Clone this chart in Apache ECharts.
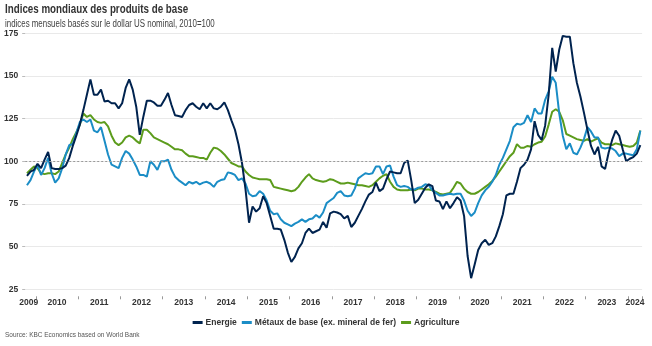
<!DOCTYPE html>
<html>
<head>
<meta charset="utf-8">
<script src="https://cdn.jsdelivr.net/npm/echarts@6/dist/echarts.min.js"></script>
<style>
  html, body { margin: 0; padding: 0; background: #ffffff; }
  #chart { width: 652px; height: 346px; }
</style>
</head>
<body>
<div id="chart"></div>
<script>
// Monthly world commodity indices (2010 = 100), Oct 2009 – Apr 2024
const startYear = 2009;
const startMonth = 10;

const yearLabels = ['2009', '2010', '2011', '2012', '2013', '2014', '2015', '2016',
                    '2017', '2018', '2019', '2020', '2021', '2022', '2023', '2024'];

const energie = [
  91.5, 94, 95,                                                          // 2009 Q4
  98.5, 96, 101, 105.5, 96, 95.5, 95.5, 96, 97.5, 102, 109, 115,          // 2010
  121.5, 130, 139, 148, 139, 139, 142, 135, 135.5, 134, 134, 131,         // 2011
  134, 143, 148, 142, 132, 115.5, 126, 135.5, 135.5, 134.5, 132.5, 132.5, // 2012
  136, 140, 133, 127, 126.5, 126, 130, 133, 134, 132, 130.5, 134,         // 2013
  131, 134, 131, 130.5, 132, 134.5, 130, 124, 118.5, 110, 99, 83.5,       // 2014
  64, 73.5, 70.5, 72.5, 79.5, 75.5, 68, 60.5, 60.5, 60, 54, 46.5,         // 2015
  41, 44, 49, 52, 58, 60.5, 58, 59, 60, 64.5, 61, 69.5,                   // 2016
  70.5, 70, 69, 66.5, 68, 61.5, 64, 68, 72, 76.5, 80.5, 82,               // 2017
  87.5, 82.5, 84, 89.5, 94, 93.5, 93, 93, 99, 100.5, 89, 75.5,            // 2018
  77.5, 81, 84.5, 86.5, 85.5, 77, 76.5, 72, 76.5, 72.5, 75.5, 79,         // 2019
  77, 68, 44.5, 31.5, 39.5, 48, 52, 54, 51, 52, 56, 62,                   // 2020
  69, 80, 81, 81, 88, 96, 98, 101, 107, 123.5, 115.5, 112.5,              // 2021
  121, 139, 166.5, 152.5, 165.5, 173.5, 173, 173, 157.5, 146, 138, 128.5, // 2022
  118.5, 109, 104, 108.5, 97, 95.5, 105, 112.5, 118, 115, 107, 100,       // 2023
  101.5, 102.5, 104.5, 109.5                                              // 2024
];

const metaux = [
  86, 89, 94,
  98, 92, 96, 102, 93, 87.5, 90, 96, 104, 109.5, 110, 116.5,
  123, 124.5, 123, 124.5, 118, 117, 120, 112, 104, 98, 97, 96,
  102, 106, 104.5, 101, 97, 92, 92, 91, 100, 98, 95, 100,
  100, 101, 95, 91, 89, 87.5, 86, 88, 87, 88, 86.5, 87.5,
  88, 87, 85, 88, 89, 89.5, 93.5, 93, 92, 89, 90, 87,
  81, 79.5, 80, 82.5, 81, 77, 71, 69, 69.5, 66, 64, 63,
  62, 63.5, 64.5, 66, 64.5, 66, 66.5, 68.5, 67, 70, 75.5, 77,
  78.5, 81.5, 82.5, 80, 79.5, 80, 84, 90, 91.5, 93, 92.5, 93,
  97, 97, 92.5, 97, 97.5, 91, 86, 85, 85.5, 85, 83.5, 83.5,
  84.5, 85, 86.5, 86, 83, 81.5, 80, 80, 80.5, 81, 80.5, 81,
  81, 77, 71, 68, 70, 75.5, 80, 83, 85, 88, 92, 98,
  102, 107, 112, 120, 122, 121.5, 122.5, 127, 123, 131, 128, 128,
  136, 141, 149.5, 146, 128, 115, 107, 110.5, 105, 104, 108, 113,
  120, 117.5, 114, 114, 108, 107.5, 108, 107.5, 106, 103, 104.5, 104.5,
  104, 103.5, 107, 118
];

const agriculture = [
  93, 95, 97,
  96, 93, 92.5, 93, 93, 92.5, 94, 99, 104, 108, 113, 117,
  121.5, 128, 126, 127, 124.5, 123, 122.5, 123, 120.5, 115, 111, 109.5,
  111, 114, 115, 114, 112, 110.5, 118.5, 118.5, 116.5, 114, 113, 112,
  111, 110, 108.5, 107, 107, 106.5, 104.5, 103, 103, 102.5, 102, 102,
  101, 105, 108, 107.5, 106, 104, 101.5, 99, 98, 97, 97, 94,
  92, 90.5, 90, 89.5, 89.5, 89.5, 89, 85, 84.5, 84, 83.5, 83,
  82.5, 83, 85, 88, 90.5, 92.5, 90, 89, 88.5, 88, 88.5, 89.5,
  89, 88, 87, 87, 87.5, 87, 86.5, 86, 86, 85.5, 85, 86,
  88, 90, 91.5, 92.5, 88, 85, 83.5, 83, 83, 83, 83.5, 83,
  84, 84, 83.5, 83.5, 83, 82, 81, 80.5, 81, 81.5, 84.5, 88,
  87, 84, 82, 81, 81, 82, 83.5, 85, 86.5, 88.5, 91, 94,
  97, 100, 103, 105, 110, 108, 108, 109, 108.5, 110, 111, 111.5,
  114.5, 121.5, 129, 130.5, 129, 124, 116, 115, 114, 113, 112.5, 112,
  113, 111.5, 112.5, 113.5, 111, 110, 110, 109.5, 110.5, 110, 109.5, 109,
  108.5, 109, 111, 118
];

// Month categories "YYYY-MM"
const months = [];
for (let k = 0; k < energie.length; k++) {
  const t = (startMonth - 1) + k;
  const y = startYear + Math.floor(t / 12);
  const m = (t % 12) + 1;
  months.push(y + '-' + (m < 10 ? '0' + m : m));
}

// Year label sits mid-year (between June and July); partial years centred on their span
const labelAt = {};
labelAt[0] = yearLabels[0];
for (let y = 2010; y <= 2023; y++) {
  labelAt[months.indexOf(y + '-06')] = String(y);
}
labelAt[months.indexOf('2024-02')] = yearLabels[yearLabels.length - 1];

const FONT = "'Liberation Sans', Arial, sans-serif";
const C_ENERGIE = '#00234f';
const C_METAUX = '#1b8dc6';
const C_AGRI = '#5c9c1c';

const chart = echarts.init(document.getElementById('chart'), null, { renderer: 'canvas' });

chart.setOption({
  animation: false,
  backgroundColor: '#ffffff',
  textStyle: { fontFamily: FONT },
  graphic: [
    {
      type: 'text', x: 5, y: 4, scaleX: 0.815,
      style: { text: 'Indices mondiaux des produits de base', font: "bold 12px " + FONT, fill: '#333333' }
    },
    {
      type: 'text', x: 5, y: 19, scaleX: 0.79,
      style: { text: 'indices mensuels basés sur le dollar US nominal, 2010=100', font: "10px " + FONT, fill: '#404040' }
    },
    {
      type: 'text', x: 5, y: 331, scaleX: 0.81,
      style: { text: 'Source: KBC Economics based on World Bank', font: "8px " + FONT, fill: '#555555' }
    }
  ],
  legend: {
    top: 313,
    left: 'center',
    itemWidth: 10,
    itemHeight: 3,
    itemGap: 5,
    icon: 'rect',
    data: ['Energie', 'Métaux de base (ex. mineral de fer)', 'Agriculture'],
    textStyle: { fontFamily: FONT, fontSize: 8.5, fontWeight: 'bold', color: '#333333', padding: [0, 0, 0, -2] }
  },
  grid: { left: 25.2, right: 9.9, top: 33.3, bottom: 56.7 },
  xAxis: {
    type: 'category',
    data: months,
    boundaryGap: true,
    offset: 7,
    axisLine: { show: false },
    axisTick: {
      show: true,
      length: 3,
      interval: function (index) { return index >= 3 && (index - 3) % 12 === 0; },
      lineStyle: { color: '#999999', width: 1 }
    },
    axisLabel: {
      margin: 2,
      interval: function (index) { return labelAt[index] !== undefined; },
      formatter: function (value, index) { return labelAt[index] || ''; },
      fontFamily: FONT,
      fontSize: 8.5,
      fontWeight: 'bold',
      color: '#333333',
      padding: [0, 0, 0, 3.5]
    },
    splitLine: { show: false }
  },
  yAxis: {
    type: 'value',
    min: 25,
    max: 175,
    interval: 25,
    axisLine: { show: false },
    axisTick: { show: true, length: 3, lineStyle: { color: '#bbbbbb' } },
    axisLabel: {
      margin: 7,
      fontFamily: FONT,
      fontSize: 8.5,
      fontWeight: 'bold',
      color: '#333333'
    },
    splitLine: { show: true, lineStyle: { color: '#e9e9e9', width: 1 } }
  },
  series: [
    {
      name: 'Agriculture', type: 'line', data: agriculture,
      showSymbol: false, symbol: 'none',
      lineStyle: { color: C_AGRI, width: 2 }, itemStyle: { color: C_AGRI },
      markLine: {
        silent: true, symbol: 'none', label: { show: false },
        lineStyle: { color: '#9a9a9a', type: [2, 2], width: 1 },
        data: [{ yAxis: 100 }]
      },
      z: 2
    },
    {
      name: 'Métaux de base (ex. mineral de fer)', type: 'line', data: metaux,
      showSymbol: false, symbol: 'none',
      lineStyle: { color: C_METAUX, width: 2 }, itemStyle: { color: C_METAUX },
      z: 3
    },
    {
      name: 'Energie', type: 'line', data: energie,
      showSymbol: false, symbol: 'none',
      lineStyle: { color: C_ENERGIE, width: 2 }, itemStyle: { color: C_ENERGIE },
      z: 4
    }
  ]
});
</script>
</body>
</html>
